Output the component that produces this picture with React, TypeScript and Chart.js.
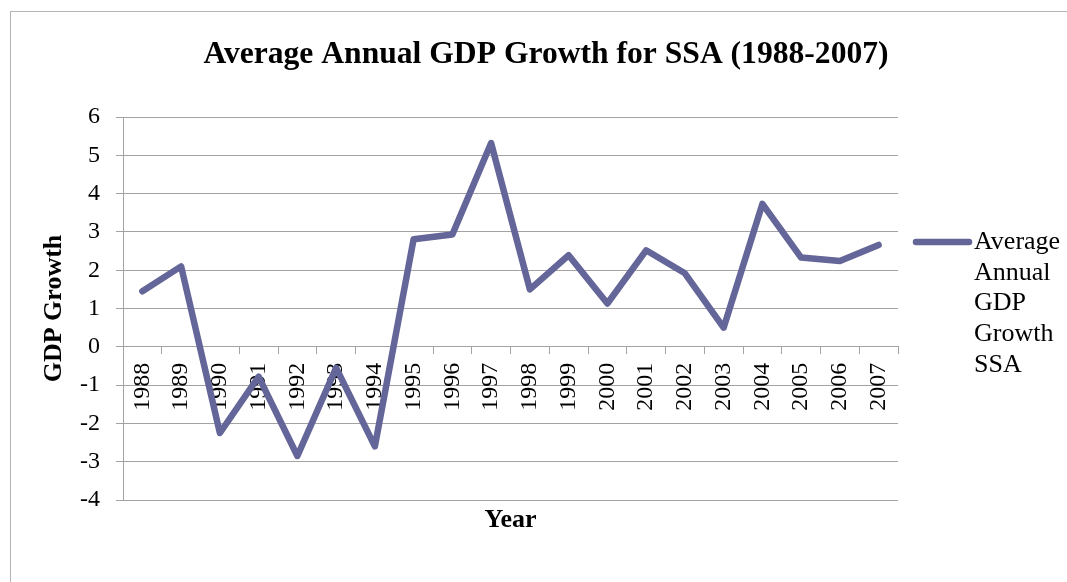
import React, { useEffect, useRef } from 'react';
import { Chart, registerables } from 'chart.js';

Chart.register(...registerables);

// ---- data ----
const years: string[] = [
  '1988', '1989', '1990', '1991', '1992', '1993', '1994', '1995', '1996', '1997',
  '1998', '1999', '2000', '2001', '2002', '2003', '2004', '2005', '2006', '2007',
];
const gdpGrowth: number[] = [
  1.45, 2.1, -2.25, -0.78, -2.85, -0.55, -2.6, 2.81, 2.93, 5.32,
  1.5, 2.39, 1.13, 2.52, 1.92, 0.5, 3.73, 2.33, 2.24, 2.66,
];
const seriesLabel = 'Average Annual GDP Growth SSA';
const chartTitle = 'Average Annual GDP Growth for SSA (1988-2007)';
const yAxisTitle = 'GDP Growth';
const xAxisTitle = 'Year';
const yMin = -4;
const yMax = 6;
const yStep = 1;

// ---- styles ----
const FONT = '"Liberation Serif", "Times New Roman", serif';
const LINE_COLOR = 'rgb(100,101,152)';
const GRID_COLOR = '#a3a3a3';
const FRAME_COLOR = '#b4b4b4';

const sideLegend = {
  id: 'sideLegend',
  afterDraw(chart: any) {
    const { ctx, chartArea } = chart;
    const ds = chart.data.datasets[0];
    const words = String(ds.label).split(' ');
    const x0 = chartArea.right;
    const y0 = chartArea.top + 125;
    ctx.save();
    ctx.strokeStyle = ds.borderColor;
    ctx.lineWidth = 6.5;
    ctx.lineCap = 'round';
    ctx.beginPath();
    ctx.moveTo(x0 + 18, y0);
    ctx.lineTo(x0 + 71, y0);
    ctx.stroke();
    ctx.fillStyle = '#000';
    ctx.font = `26px ${FONT}`;
    ctx.textBaseline = 'middle';
    ctx.textAlign = 'left';
    words.forEach((w, i) => ctx.fillText(w, x0 + 76, y0 + i * 30.7));
    ctx.restore();
  },
};

export default function App() {
  const canvasRef = useRef<HTMLCanvasElement | null>(null);

  useEffect(() => {
    const canvas = canvasRef.current;
    if (!canvas) return;
    const chart = new Chart(canvas, {
      type: 'line',
      data: {
        labels: years,
        datasets: [
          {
            label: seriesLabel,
            data: gdpGrowth,
            xAxisID: 'x',
            yAxisID: 'y',
            borderColor: LINE_COLOR,
            backgroundColor: LINE_COLOR,
            borderWidth: 6.5,
            borderJoinStyle: 'round',
            borderCapStyle: 'round',
            pointRadius: 0,
            pointHoverRadius: 0,
            tension: 0,
            fill: false,
          },
        ],
      },
      options: {
        responsive: false,
        animation: false,
        events: [],
        layout: { padding: { left: 0, right: 0, top: 0, bottom: 46.4 } },
        plugins: {
          legend: { display: false },
          tooltip: { enabled: false },
          title: {
            display: true,
            text: chartTitle,
            color: '#000',
            font: { family: FONT, size: 31.6, weight: 'bold', lineHeight: 1.2 },
            padding: { top: 24, bottom: 43.1 },
          },
        },
        scales: {
          x: {
            type: 'category',
            axis: 'x',
            position: { y: 0 },
            offset: true,
            grid: {
              offset: true,
              drawOnChartArea: false,
              drawTicks: true,
              tickLength: 7,
              color: GRID_COLOR,
            },
            border: { display: true, color: GRID_COLOR, width: 1 },
            ticks: {
              autoSkip: false,
              minRotation: 90,
              maxRotation: 90,
              padding: 9,
              color: '#000',
              font: { family: FONT, size: 24 },
            },
          },
          xTitle: {
            type: 'category',
            axis: 'x',
            position: 'bottom',
            offset: true,
            grid: { display: false, drawTicks: false },
            border: { display: false },
            ticks: { display: false },
            title: {
              display: true,
              text: xAxisTitle,
              color: '#000',
              font: { family: FONT, size: 26, weight: 'bold', lineHeight: 1.2 },
              padding: { top: 4.4, bottom: 0 },
            },
          },
          y: {
            type: 'linear',
            axis: 'y',
            position: 'left',
            min: yMin,
            max: yMax,
            ticks: {
              stepSize: yStep,
              padding: 16,
              color: '#000',
              font: { family: FONT, size: 24 },
            },
            grid: { color: GRID_COLOR, drawTicks: true, tickLength: 7 },
            border: { display: true, color: GRID_COLOR },
            title: {
              display: true,
              text: yAxisTitle,
              color: '#000',
              font: { family: FONT, size: 26, weight: 'bold', lineHeight: 1.2 },
              padding: { top: 27.4, bottom: 0 },
            },
            afterFit: (s: any) => {
              s.width = 112;
            },
          },
          legendSpace: {
            type: 'linear',
            axis: 'y',
            position: 'right',
            grid: { display: false, drawTicks: false },
            border: { display: false },
            ticks: { display: false },
            afterFit: (s: any) => {
              s.width = 183;
            },
          },
        },
      } as any,
      plugins: [sideLegend],
    });
    return () => chart.destroy();
  }, []);

  return (
    <div
      style={{
        position: 'fixed',
        left: 0,
        top: 0,
        width: 1067,
        height: 582,
        overflow: 'hidden',
        background: '#fff',
      }}
    >
      <div
        style={{
          position: 'absolute',
          left: 10,
          top: 11,
          width: 1072,
          height: 620,
          border: `1px solid ${FRAME_COLOR}`,
          boxSizing: 'border-box',
        }}
      />
      <canvas
        ref={canvasRef}
        width={1070}
        height={570}
        style={{ position: 'absolute', left: 11, top: 12, width: 1070, height: 570 }}
      />
    </div>
  );
}
